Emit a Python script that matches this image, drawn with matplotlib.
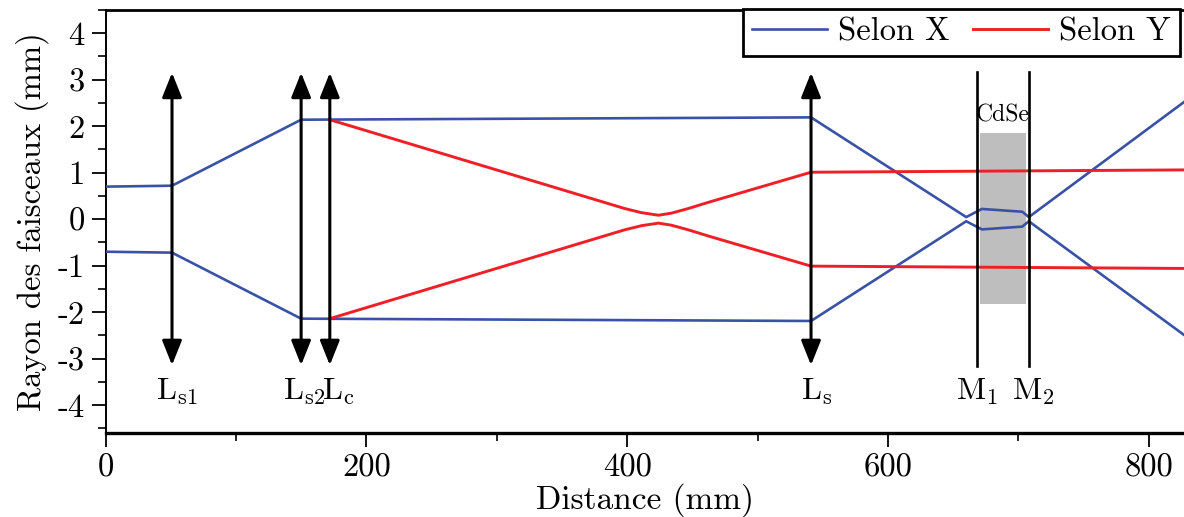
import matplotlib
matplotlib.use("Agg")
import matplotlib.pyplot as plt
from matplotlib.ticker import FixedLocator, FixedFormatter, MultipleLocator
from matplotlib.patches import Rectangle
from matplotlib.transforms import offset_copy

plt.rcParams['font.family'] = ['cmr10', 'DejaVu Serif']
plt.rcParams['mathtext.fontset'] = 'cm'
plt.rcParams['axes.unicode_minus'] = False

# ---- data ----
blue_x = [0, 51, 150, 541, 660, 672, 703, 708, 827]
blue_upper = [0.70, 0.72, 2.14, 2.19, 0.045, 0.22, 0.16, 0.045, 2.52]
blue_lower = [-0.70, -0.72, -2.14, -2.19, -0.045, -0.22, -0.16, -0.045, -2.49]

red_x = [172, 385, 398, 411, 424, 434, 447, 462, 541, 827]
red_upper = [2.14, 0.34, 0.23, 0.14, 0.085, 0.13, 0.23, 0.36, 1.01, 1.06]
red_lower = [-2.14, -0.34, -0.23, -0.14, -0.085, -0.13, -0.23, -0.36, -1.01, -1.06]

lens_x = [51, 150, 172, 541]
lens_labels = [r'$\mathrm{L}_{\mathrm{s1}}$', r'$\mathrm{L}_{\mathrm{s2}}$',
               r'$\mathrm{L}_{\mathrm{c}}$', r'$\mathrm{L}_{\mathrm{s}}$']
mirror_x = [668, 708]
mirror_labels = [r'$\mathrm{M}_{1}$', r'$\mathrm{M}_{2}$']
crystal_x = [670.6, 705.8]
crystal_y = [-1.83, 1.86]
crystal_label = 'CdSe'

x_ticks = [0, 200, 400, 600, 800]
x_ticklabels = ['0', '200', '400', '600', '800']
y_ticks = [-4, -3, -2, -1, 0, 1, 2, 3, 4]
y_ticklabels = ['-4', '-3', '-2', '-1', '0', '1', '2', '3', '4']

series_labels = ['Selon X', 'Selon Y']

BLUE = '#3a52a5'
RED = '#ee1f26'

fig = plt.figure(figsize=(11.84, 5.17), dpi=100)
ax = fig.add_axes([105.5 / 1184, 1 - 433 / 517, 1 - 105.5 / 1184, (433 - 10) / 517])
ax.set_xlim(0, 827)
ax.set_ylim(-4.6, 4.5)

# crystal
ax.add_patch(Rectangle((crystal_x[0], crystal_y[0]), crystal_x[1] - crystal_x[0],
                       crystal_y[1] - crystal_y[0], facecolor='#bfbebe',
                       edgecolor='none', zorder=1))
ax.text(sum(crystal_x) / 2, 2.24, crystal_label, ha='center', va='center',
        fontsize=17, zorder=5)

# beams
lb, = ax.plot(blue_x, blue_upper, color=BLUE, lw=1.9, zorder=3)
ax.plot(blue_x, blue_lower, color=BLUE, lw=1.9, zorder=3)
lr, = ax.plot(red_x, red_upper, color=RED, lw=2.1, zorder=3)
ax.plot(red_x, red_lower, color=RED, lw=2.1, zorder=3)

# lenses (label offsets in pixels, style only)
lens_dx = [5, 3, 9, 6]
for x, lab, dx in zip(lens_x, lens_labels, lens_dx):
    ax.annotate('', xy=(x, 3.15), xytext=(x, -3.14),
                arrowprops=dict(arrowstyle='<|-|>,head_length=0.75,head_width=0.3',
                                mutation_scale=20, color='black', lw=2.2,
                                shrinkA=0, shrinkB=0), zorder=4)
    tr = offset_copy(ax.transData, fig=fig, x=dx * 0.72, y=0, units='points')
    ax.text(x, -3.72, lab, ha='center', va='center', fontsize=23, zorder=5,
            transform=tr)

# mirrors
mirror_dx = [0, 5]
for x, lab, dx in zip(mirror_x, mirror_labels, mirror_dx):
    ax.plot([x, x], [-3.16, 3.16], color='black', lw=1.9, zorder=4)
    tr = offset_copy(ax.transData, fig=fig, x=dx * 0.72, y=0, units='points')
    ax.text(x, -3.72, lab, ha='center', va='center', fontsize=23, zorder=5,
            transform=tr)

# axes styling
ax.xaxis.set_major_locator(FixedLocator(x_ticks))
ax.xaxis.set_major_formatter(FixedFormatter(x_ticklabels))
ax.xaxis.set_minor_locator(MultipleLocator(100))
ax.yaxis.set_major_locator(FixedLocator(y_ticks))
ax.yaxis.set_major_formatter(FixedFormatter(y_ticklabels))
ax.yaxis.set_minor_locator(MultipleLocator(0.5))
ax.tick_params(which='major', direction='out', length=10, width=1.3, labelsize=23.5, pad=5)
ax.tick_params(which='minor', direction='out', length=6, width=1.2)
ax.spines['right'].set_visible(False)
ax.spines['bottom'].set_linewidth(2.4)
ax.spines['top'].set_linewidth(2.0)
ax.spines['left'].set_linewidth(1.4)

ax.set_xlabel('Distance (mm)', fontsize=24, labelpad=0)
ax.set_ylabel('Rayon des faisceaux (mm)', fontsize=23.5, labelpad=6)

leg = ax.legend([lb, lr], series_labels, loc='upper left',
                bbox_to_anchor=(743 / 1184, 1 - 9 / 517), bbox_transform=fig.transFigure,
                ncol=2, fontsize=23.5, frameon=True, fancybox=False, framealpha=1,
                edgecolor='black', handlelength=2.3, handletextpad=0.35,
                columnspacing=0.7, borderaxespad=0, borderpad=0.27)
leg.get_frame().set_linewidth(2.0)

fig.savefig('out.png', dpi=100)
